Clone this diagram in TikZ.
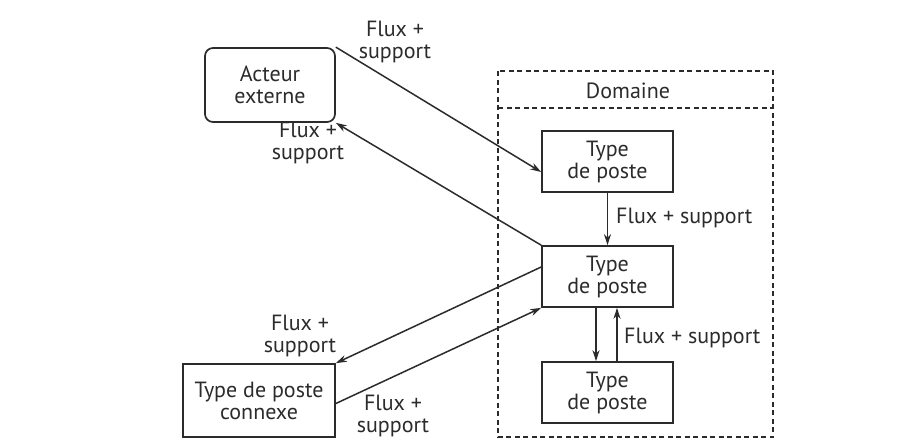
\documentclass[tikz,border=0pt]{standalone}
\usepackage{fontspec}
\setmainfont{PT Sans}
\usetikzlibrary{arrows.meta}
\definecolor{ink}{HTML}{2B2B2B}
\begin{document}
\begin{tikzpicture}[x=1pt,y=-1pt,
  every node/.style={text=ink,font=\fontsize{22}{22}\selectfont},
  box/.style={draw=ink,line width=1.7pt,minimum width=131pt,minimum height=61pt,align=center,inner sep=0pt},
  rbox/.style={box,rounded corners=8pt,minimum width=130pt,minimum height=74pt},
  cbox/.style={box,minimum width=152pt,minimum height=73pt},
  lbl/.style={align=center,inner sep=0pt},
  conn/.style={draw=ink,line width=1.5pt,-{Stealth[length=11pt,width=7pt,inset=3.5pt]}},
  dom/.style={draw=ink,line width=1.4pt,dash pattern=on 5pt off 3.5pt}]
\useasboundingbox (0,0) rectangle (912,445);
% Domaine frame
\draw[dom] (498,71) rectangle (773,437);
\draw[dom] (498,108) -- (773,108);
\node (dtitle) at (628,91) {Domaine};
% nodes
\node[rbox] (act) at (270,85) {Acteur\\externe};
\node[box] (t1) at (607.5,161.5) {Type\\de poste};
\node[box] (t2) at (607.5,276.5) {Type\\de poste};
\node[box] (t3) at (607.5,392.5) {Type\\de poste};
\node[cbox] (cx) at (259,400.5) {Type de poste\\connexe};
% connectors
\draw[conn] (act.north east) -- ([yshift=-10.5pt]t1.west);
\draw[conn] (t2.north west) -- (act.south east);
\draw[conn] ([yshift=9.5pt]t2.west) -- (cx.north east);
\draw[conn] ([yshift=-3pt]cx.east) -- (t2.south west);
\draw[conn] (t1.south) -- (t2.north);
\draw[conn] ([xshift=-11.5pt]t2.south) -- ([xshift=-11.5pt]t3.north);
\draw[conn] ([xshift=9.5pt]t3.north) -- ([xshift=9.5pt]t2.south);
% labels
\node[lbl] (l1) at (395,42) {Flux +\\support};
\node[lbl] (l2) at (308,143) {Flux +\\support};
\node[lbl] (l3) at (300,336) {Flux +\\support};
\node[lbl] (l4) at (393,416) {Flux +\\support};
\node[lbl,anchor=west] (l5) at (616,218) {Flux + support};
\node[lbl,anchor=west] (l6) at (624,338) {Flux + support};
\end{tikzpicture}
\end{document}
